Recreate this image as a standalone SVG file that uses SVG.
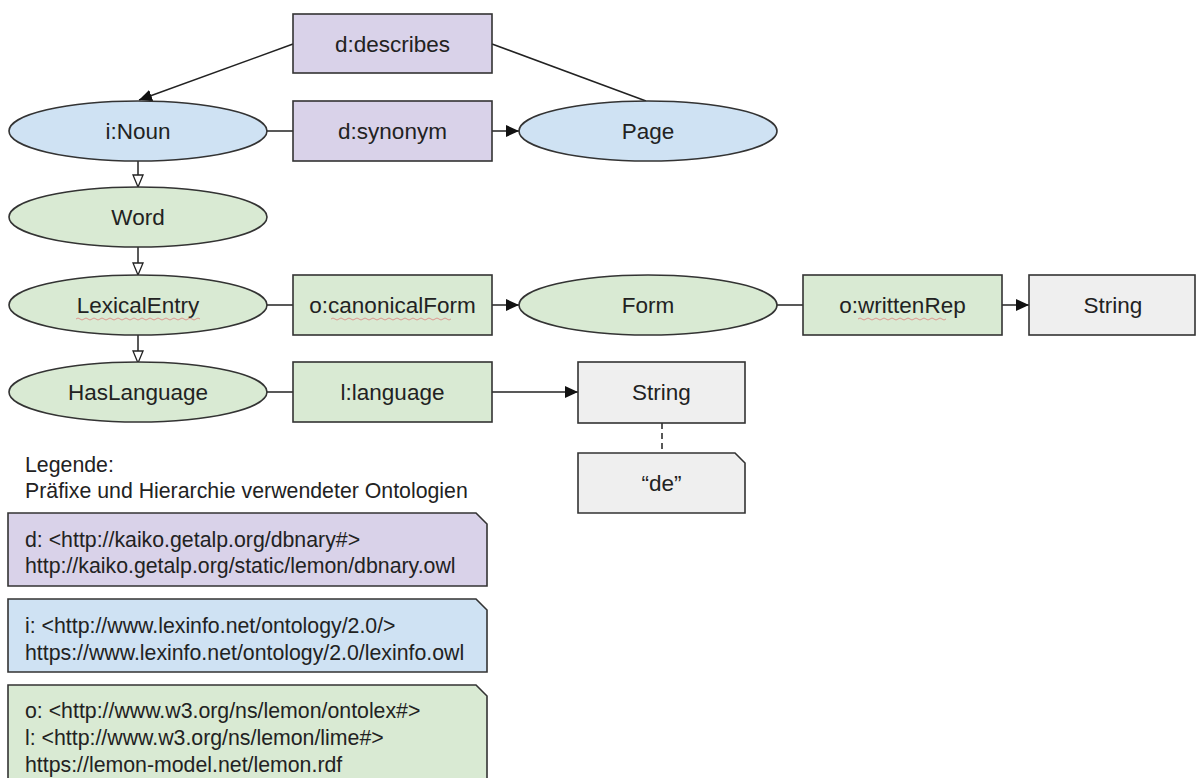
<svg xmlns="http://www.w3.org/2000/svg" width="1196" height="778" viewBox="0 0 1196 778">
<style>
text{font-family:"Liberation Sans",Arial,sans-serif;font-size:22.5px;fill:#222}
.c{text-anchor:middle}
.lg{font-size:21.3px}
.n{stroke:#333;stroke-width:1.6}
.pur{fill:#d9d2e9}.blu{fill:#cfe2f3}.grn{fill:#d9ead3}.gry{fill:#efefef}
.e{stroke:#222;stroke-width:1.5;fill:none}
.sq{stroke:#e06666;stroke-width:0.8;fill:none;opacity:0.8}
</style>
<defs>
<marker id="fa" markerUnits="userSpaceOnUse" markerWidth="14" markerHeight="12" refX="13" refY="6" orient="auto"><path d="M0,0 L13,6 L0,12 Z" fill="#111"/></marker>
<marker id="ha" markerUnits="userSpaceOnUse" markerWidth="14" markerHeight="12" refX="13" refY="6" orient="auto"><path d="M1,1 L13,6 L1,11 Z" fill="#fff" stroke="#222" stroke-width="1.3"/></marker>
</defs>
<rect width="1196" height="778" fill="#fff"/>
<g id="connectors">
<line class="e" x1="293" y1="44" x2="139" y2="100" marker-end="url(#fa)"/>
<line class="e" x1="492" y1="44" x2="646" y2="101"/>
<line class="e" x1="267" y1="131" x2="293" y2="131"/>
<line class="e" x1="492" y1="131" x2="519" y2="131" marker-end="url(#fa)"/>
<line class="e" x1="138" y1="161" x2="138" y2="187" marker-end="url(#ha)"/>
<line class="e" x1="138" y1="247" x2="138" y2="275" marker-end="url(#ha)"/>
<line class="e" x1="138" y1="335" x2="138" y2="363" marker-end="url(#ha)"/>
<line class="e" x1="267" y1="305" x2="293" y2="305"/>
<line class="e" x1="492" y1="305" x2="519" y2="305" marker-end="url(#fa)"/>
<line class="e" x1="777" y1="305" x2="803" y2="305"/>
<line class="e" x1="1002" y1="305" x2="1029" y2="305" marker-end="url(#fa)"/>
<line class="e" x1="267" y1="392" x2="293" y2="392"/>
<line class="e" x1="492" y1="392" x2="578" y2="392" marker-end="url(#fa)"/>
<line class="e" x1="662" y1="423" x2="662" y2="453" stroke-dasharray="6,4"/>
</g>
<g id="d-describes"><rect class="n pur" x="293" y="14" width="199" height="59"/><text class="c" x="392.5" y="52">d:describes</text></g>
<g id="d-synonym"><rect class="n pur" x="293" y="101" width="199" height="60"/><text class="c" x="392.5" y="139">d:synonym</text></g>
<g id="i-noun"><ellipse class="n blu" cx="138" cy="131" rx="129" ry="30"/><text class="c" x="138" y="139">i:Noun</text></g>
<g id="page"><ellipse class="n blu" cx="648" cy="131" rx="129" ry="30"/><text class="c" x="648" y="139">Page</text></g>
<g id="word"><ellipse class="n grn" cx="138" cy="217" rx="129" ry="30"/><text class="c" x="138" y="225">Word</text></g>
<g id="lexicalentry"><ellipse class="n grn" cx="138" cy="305" rx="129" ry="30"/><text class="c" x="138" y="313">LexicalEntry</text><path class="sq" d="M76,319 q2,-2 4,0 t4,0 t4,0 t4,0 t4,0 t4,0 t4,0 t4,0 t4,0 t4,0 t4,0 t4,0 t4,0 t4,0 t4,0 t4,0 t4,0 t4,0 t4,0 t4,0 t4,0 t4,0 t4,0 t4,0 t4,0 t4,0 t4,0 t4,0 t4,0 t4,0 t4,0"/></g>
<g id="o-canonicalform"><rect class="n grn" x="293" y="275" width="199" height="60"/><text class="c" x="392.5" y="313">o:canonicalForm</text><path class="sq" d="M331,319 q2,-2 4,0 t4,0 t4,0 t4,0 t4,0 t4,0 t4,0 t4,0 t4,0 t4,0 t4,0 t4,0 t4,0 t4,0 t4,0 t4,0 t4,0 t4,0 t4,0 t4,0 t4,0 t4,0 t4,0 t4,0 t4,0 t4,0 t4,0 t4,0 t4,0 t4,0"/></g>
<g id="form"><ellipse class="n grn" cx="648" cy="305" rx="129" ry="30"/><text class="c" x="648" y="313">Form</text></g>
<g id="o-writtenrep"><rect class="n grn" x="803" y="275" width="199" height="60"/><text class="c" x="902.5" y="313">o:writtenRep</text><path class="sq" d="M858,319 q2,-2 4,0 t4,0 t4,0 t4,0 t4,0 t4,0 t4,0 t4,0 t4,0 t4,0 t4,0 t4,0 t4,0 t4,0 t4,0 t4,0 t4,0 t4,0 t4,0 t4,0 t4,0 t4,0"/></g>
<g id="string-1"><rect class="n gry" x="1029" y="275" width="166" height="60"/><text class="c" x="1113" y="313">String</text></g>
<g id="hasLanguage"><ellipse class="n grn" cx="138" cy="392" rx="129" ry="30"/><text class="c" x="138" y="400">HasLanguage</text></g>
<g id="l-language"><rect class="n grn" x="293" y="362" width="199" height="60"/><text class="c" x="392.5" y="400">l:language</text></g>
<g id="string-2"><rect class="n gry" x="578" y="362" width="167" height="61"/><text class="c" x="661.5" y="400">String</text></g>
<g id="de"><path class="n gry" d="M578,453 H735 L745,463 V513 H578 Z"/><text class="c" x="661.5" y="491">“de”</text></g>
<g id="legend">
<text class="lg" x="25" y="472">Legende:</text>
<text class="lg" x="25" y="498">Präfixe und Hierarchie verwendeter Ontologien</text>
<g id="legend-d"><path class="n pur" d="M8,513 H476 L487,524 V586 H8 Z"/><text class="lg" x="25" y="547">d: &lt;http://kaiko.getalp.org/dbnary#&gt;</text><text class="lg" x="25" y="573">http://kaiko.getalp.org/static/lemon/dbnary.owl</text></g>
<g id="legend-i"><path class="n blu" d="M8,599 H476 L487,610 V672 H8 Z"/><text class="lg" x="25" y="633">i: &lt;http://www.lexinfo.net/ontology/2.0/&gt;</text><text class="lg" x="25" y="660">https://www.lexinfo.net/ontology/2.0/lexinfo.owl</text></g>
<g id="legend-o"><path class="n grn" d="M8,685 H476 L487,696 V790 H8 Z"/><text class="lg" x="25" y="718">o: &lt;http://www.w3.org/ns/lemon/ontolex#&gt;</text><text class="lg" x="25" y="745">l: &lt;http://www.w3.org/ns/lemon/lime#&gt;</text><text class="lg" x="25" y="772">https://lemon-model.net/lemon.rdf</text></g>
</g>
</svg>
